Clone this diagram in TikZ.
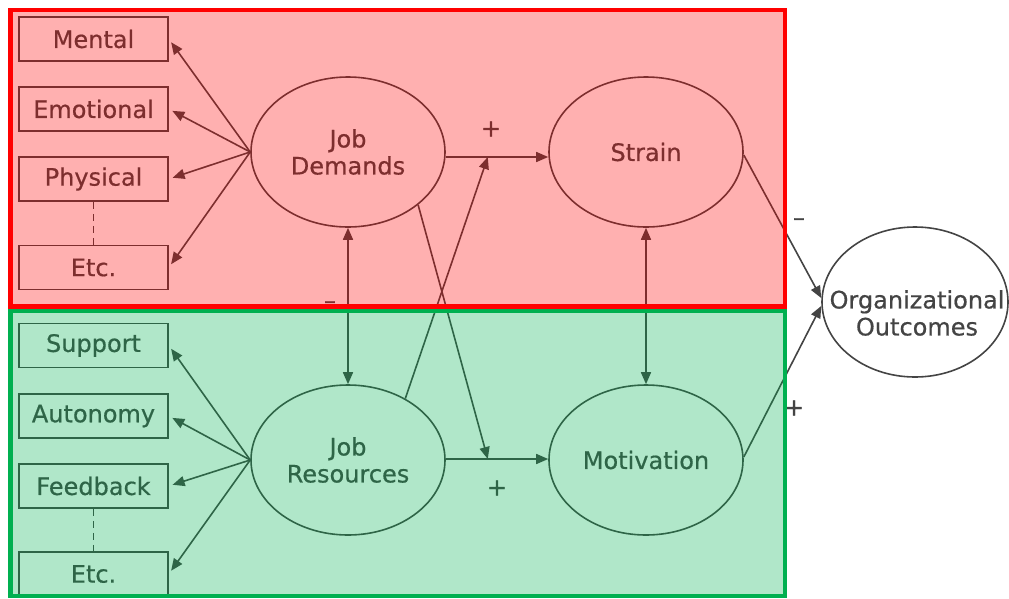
\documentclass[tikz,border=0pt]{standalone}
\usepackage{fontspec}
\setmainfont[FakeBold=0.6]{DejaVu Sans}
\usetikzlibrary{arrows.meta,shapes.geometric}
\definecolor{ink}{HTML}{444444}
\definecolor{redzone}{HTML}{FF0000}
\definecolor{greenzone}{HTML}{00B050}

\begin{document}
\begin{tikzpicture}[x=1pt,y=-1pt,
  every node/.style={font=\fontsize{24}{27}\selectfont, text=ink, align=center},
  factor/.style={draw=ink, line width=1.6pt, minimum width=149pt, minimum height=44pt, inner sep=0pt},
  construct/.style={ellipse, draw=ink, line width=1.6pt, minimum width=194pt, minimum height=150pt, inner sep=0pt},
  link/.style={draw=ink, line width=1.6pt, -{Triangle[length=12pt,width=10pt]}},
  dlink/.style={draw=ink, line width=1.6pt, {Triangle[length=12pt,width=10pt]}-{Triangle[length=12pt,width=10pt]}},
  sign/.style={inner sep=0pt},
]
\useasboundingbox (0,0) rectangle (1009,598);

% demand factors
\node[factor] (mental)    at (93.5,39)  {Mental};
\node[factor] (emotional) at (93.5,109) {Emotional};
\node[factor] (physical)  at (93.5,179) {Physical};
\node[factor] (etcd)      at (93.5,267.5) {Etc.};
% resource factors
\node[factor] (support)   at (93.5,345.5) {Support};
\node[factor] (autonomy)  at (93.5,416) {Autonomy};
\node[factor] (feedback)  at (93.5,486) {Feedback};
\node[factor] (etcr)      at (93.5,574) {Etc.};

% latent constructs
\node[construct] (jd) at (348,152) {Job\\Demands};
\node[construct] (jr) at (348,460) {Job\\Resources};
\node[construct] (st) at (646,152) {Strain};
\node[construct] (mo) at (646,460) {Motivation};
\node[ellipse, draw=ink, line width=1.6pt, minimum width=186pt, minimum height=150pt, inner sep=0pt] (oo) at (915,302) {};
\node (ootx) at (917,313) {Organizational\\Outcomes};

% factor fans
\foreach \f in {mental,emotional,physical,etcd}
  \draw[link, shorten >=4pt] (jd.west) -- (\f.east);
\foreach \f in {support,autonomy,feedback,etcr}
  \draw[link, shorten >=4pt] (jr.west) -- (\f.east);
\draw[ink, line width=1.6pt, dash pattern=on 7pt off 5pt] (physical.south) -- (etcd.north);
\draw[ink, line width=1.6pt, dash pattern=on 7pt off 5pt] (feedback.south) -- (etcr.north);

% main paths
\draw[link] ([yshift=-5pt]jd.east) -- ([yshift=-5pt]st.west)
  coordinate[pos=0.41] (p1);
\draw[link] ([yshift=1pt]jr.east) -- ([yshift=1pt]mo.west)
  coordinate[pos=0.41] (p2);
\draw[link] (jr.47) -- (p1);
\draw[link] (jd.-37) -- (p2);
\draw[dlink] (jd.south) -- (jr.north);
\draw[dlink] (st.south) -- (mo.north);
\draw[link] ([yshift=-3pt]st.east) -- ([yshift=4pt]oo.west);
\draw[link] ([yshift=3pt]mo.east) -- ([yshift=-4pt]oo.west);

% signs
\node[sign] (s1) at (491,129) {+};
\node[sign] (s2) at (497,488) {+};
\node[sign] (s3) at (330,305) {–};
\node[sign] (s4) at (799,222) {–};
\node[sign] (s5) at (794,408) {+};

% highlighted zones
\fill[redzone, fill opacity=0.31] (10.5,10) rectangle (785,306.5);
\fill[greenzone, fill opacity=0.31] (10.5,311) rectangle (785,596);
\draw[redzone, line width=4.5pt] (10.5,10) rectangle (785,306.5);
\draw[greenzone, line width=4.5pt] (10.5,311) rectangle (785,596);
\end{tikzpicture}
\end{document}
